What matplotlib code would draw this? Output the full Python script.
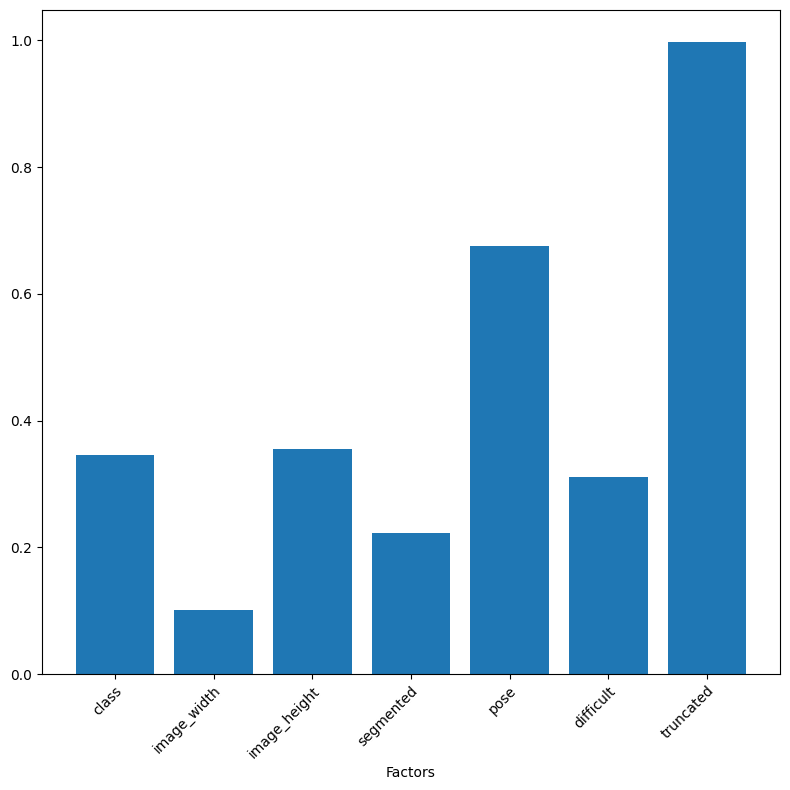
import matplotlib
matplotlib.use('Agg')
import matplotlib.pyplot as plt

# Factor importance values
factors = ['class', 'image_width', 'image_height', 'segmented',
           'pose', 'difficult', 'truncated']
scores = [0.346, 0.101, 0.355, 0.223, 0.675, 0.311, 0.998]

fig, ax = plt.subplots(figsize=(7.9, 7.9), dpi=100)
ax.bar(factors, scores, color='#1f77b4')
ax.set_xlabel('Factors')
plt.setp(ax.get_xticklabels(), rotation=45, ha='right', rotation_mode='anchor')
fig.subplots_adjust(left=42 / 790, right=780 / 790, top=1 - 10 / 790, bottom=1 - 674 / 790)
plt.savefig('out.png', dpi=100)
